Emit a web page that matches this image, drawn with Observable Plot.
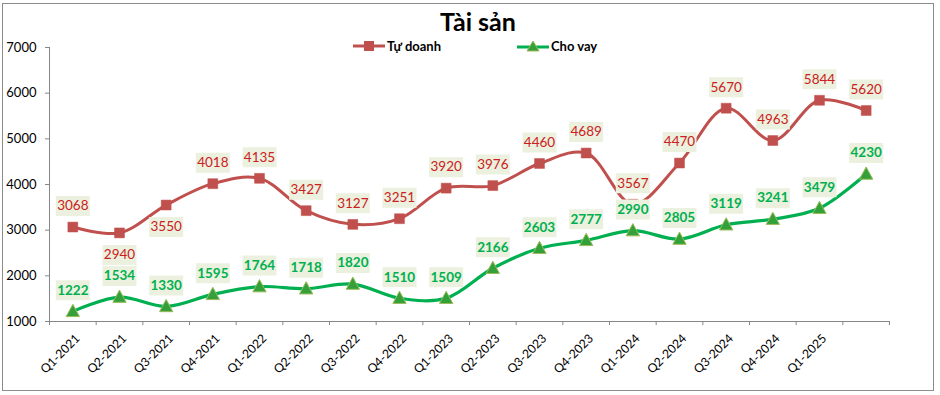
<!DOCTYPE html>
<html>
<head>
<meta charset="utf-8">
<script src="https://cdn.jsdelivr.net/npm/d3@7"></script>
<script src="https://cdn.jsdelivr.net/npm/@observablehq/plot@0.6"></script>
<style>
  html, body { margin: 0; padding: 0; background: #fff; }
  #wrap { position: relative; width: 940px; height: 395px; overflow: hidden; font-family: Lato, "Open Sans", sans-serif; }
  #frame { position: absolute; left: 2px; top: 3px; width: 930px; height: 386px; border: 1px solid #8c8c8c; pointer-events: none; }
  #title { position: absolute; left: 0; width: 956px; top: 6px; text-align: center; font-weight: bold; font-size: 25px; color: #000; }
  .leg { position: absolute; top: 38px; font-weight: bold; font-size: 13px; color: #000; display: flex; align-items: center; }
  .leg svg { margin-right: 2px; }
  #chart { position: absolute; left: 0; top: 0; }
</style>
</head>
<body>
<div id="wrap">
  <div id="chart"></div>
  <div id="title">Tài sản</div>
  <div class="leg" style="left:353px"><svg width="32" height="14"><line x1="0" y1="7" x2="32" y2="7" stroke="#C0504D" stroke-width="3"/><rect x="11" y="2" width="10" height="10" fill="#C0504D"/></svg>Tự doanh</div>
  <div class="leg" style="left:517px"><svg width="32" height="14"><line x1="0" y1="8" x2="32" y2="8" stroke="#00B050" stroke-width="3"/><path d="M16,2 L22,12 L10,12 Z" fill="#33A03A" stroke="#9BBB59" stroke-width="1"/></svg>Cho vay</div>
  <div id="frame"></div>
</div>
<script>
const quarters = ["Q1-2021","Q2-2021","Q3-2021","Q4-2021","Q1-2022","Q2-2022","Q3-2022","Q4-2022","Q1-2023","Q2-2023","Q3-2023","Q4-2023","Q1-2024","Q2-2024","Q3-2024","Q4-2024","Q1-2025",""];
const tuDoanh = [3068,2940,3550,4018,4135,3427,3127,3251,3920,3976,4460,4689,3567,4470,5670,4963,5844,5620];
const choVay  = [1222,1534,1330,1595,1764,1718,1820,1510,1509,2166,2603,2777,2990,2805,3119,3241,3479,4230];
const yTicks = [1000,2000,3000,4000,5000,6000,7000];

const td = tuDoanh.map((v, i) => ({i, v, below: i === 1 || i === 2}));
const cv = choVay.map((v, i) => ({i, v}));
const idx = quarters.map((q, i) => i);
const bounds = quarters.map((q, i) => i - 0.5).concat([quarters.length - 0.5]);

const labelBox = {draw(ctx) { ctx.rect(-17, -10, 34, 20); }};
const tri = {draw(ctx, size) { const r = 7; ctx.moveTo(0, -r); ctx.lineTo(r*0.95, r*0.75); ctx.lineTo(-r*0.95, r*0.75); ctx.closePath(); }};

const font = "Lato, 'Open Sans', sans-serif";
const chart = Plot.plot({
  width: 940,
  height: 395,
  marginLeft: 49,
  marginRight: 51,
  marginTop: 47,
  marginBottom: 74,
  style: {fontFamily: font, fontSize: "13px", color: "#000", background: "transparent", overflow: "visible"},
  x: {type: "linear", domain: [-0.5, quarters.length - 0.5]},
  y: {domain: [1000, 7000]},
  marks: [
    Plot.axisY({ticks: yTicks, tickSize: 4, tickPadding: 9, tickFormat: d => String(d), label: null, stroke: "#868686", fontSize: 13}),
    Plot.axisX({ticks: bounds, tickSize: 4, tickFormat: () => "", label: null, stroke: "#868686"}),
    Plot.axisX({ticks: idx, tickSize: 0, tickRotate: -45, tickPadding: 15, dx: 5, tickFormat: i => quarters[i], label: null, fontSize: 12.2}),
    Plot.ruleX([-0.5], {y1: 1000, y2: 7000, stroke: "#868686"}),
    Plot.ruleY([1000], {stroke: "#868686"}),
    Plot.line(td, {x: "i", y: "v", stroke: "#C0504D", strokeWidth: 3, curve: "catmull-rom"}),
    Plot.line(cv, {x: "i", y: "v", stroke: "#00B050", strokeWidth: 3.2, curve: "catmull-rom"}),
    Plot.dot(td, {x: "i", y: "v", symbol: "square", r: 5.6, fill: "#C0504D", stroke: "#C0504D", strokeWidth: 0.5}),
    Plot.dot(cv, {x: "i", y: "v", symbol: tri, fill: "#33A03A", stroke: "#9BBB59", strokeWidth: 1}),
    Plot.dot(td.filter(d => !d.below), {x: "i", y: "v", symbol: labelBox, dy: -21, fill: "#EBF1DE", stroke: null}),
    Plot.dot(td.filter(d => d.below), {x: "i", y: "v", symbol: labelBox, dy: 22, fill: "#EBF1DE", stroke: null}),
    Plot.dot(cv, {x: "i", y: "v", symbol: labelBox, dy: -21, fill: "#EBF1DE", stroke: null}),
    Plot.text(td.filter(d => !d.below), {x: "i", y: "v", text: d => String(d.v), dy: -21, fill: "#CC2020", fontSize: 13.5}),
    Plot.text(td.filter(d => d.below), {x: "i", y: "v", text: d => String(d.v), dy: 22, fill: "#CC2020", fontSize: 13.5}),
    Plot.text(cv, {x: "i", y: "v", text: d => String(d.v), dy: -21, fill: "#00B050", fontSize: 13.5, fontWeight: "bold"})
  ]
});
document.getElementById("chart").appendChild(chart);
</script>
</body>
</html>
